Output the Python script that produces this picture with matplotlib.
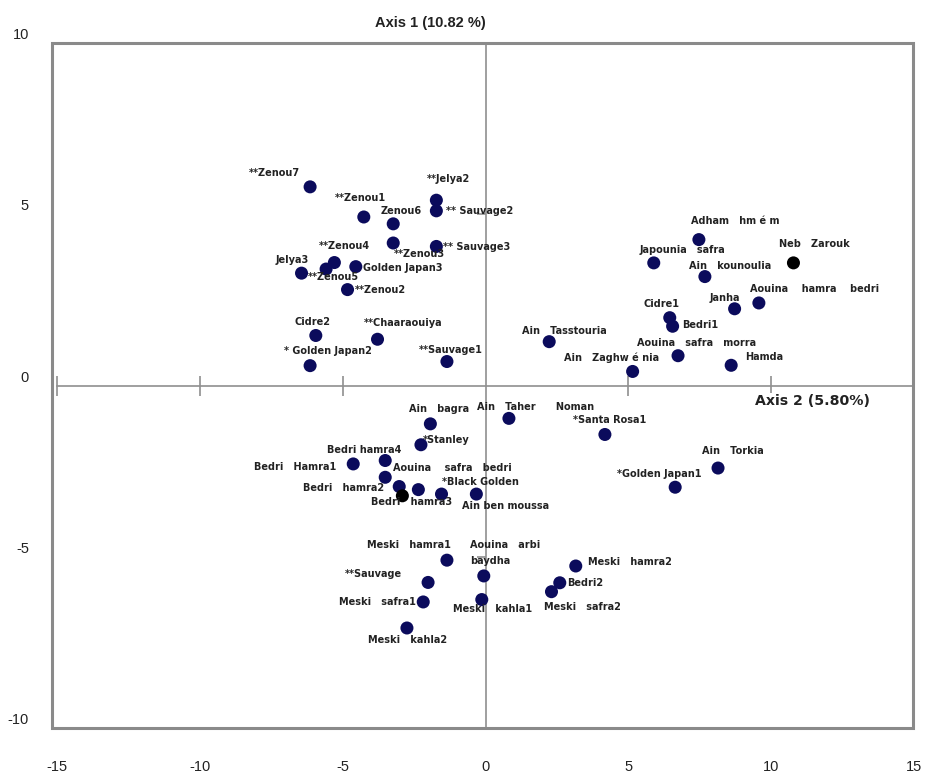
import matplotlib
matplotlib.use("Agg")
import matplotlib.pyplot as plt
from matplotlib import transforms
from matplotlib.patches import Rectangle

# ---------------- data ----------------
names = [
    "**Zenou7", "**Zenou1", "Zenou6", "**Jelya2", "** Sauvage2", "**Zenou3",
    "** Sauvage3", "**Zenou4", "**Zenou5", "Jelya3", "Golden Japan3", "**Zenou2",
    "Cidre2", "**Chaaraouiya", "* Golden Japan2", "**Sauvage1",
    "Adham   hm é m", "Neb   Zarouk", "Japounia   safra", "Ain   kounoulia",
    "Aouina    hamra    bedri", "Janha", "Cidre1", "Bedri1", "Ain   Tasstouria",
    "Aouina   safra   morra", "Hamda", "Ain   Zaghw é nia",
    "Ain   bagra", "Ain   Taher      Noman", "*Stanley", "Bedri hamra4",
    "Bedri   Hamra1", "Aouina    safra   bedri", "Bedri   hamra2", "",
    "Bedri   hamra3", "*Black Golden", "Ain ben moussa",
    "*Santa Rosa1", "Ain   Torkia", "*Golden Japan1",
    "Meski   hamra1", "Aouina   arbi\nbaydha", "**Sauvage", "Meski   safra1",
    "Meski   kahla1", "Meski   kahla2", "Meski   hamra2", "Bedri2", "Meski   safra2",
]
axis2 = [
    -6.14, -4.26, -3.23, -1.72, -1.72, -3.23,
    -1.72, -5.29, -5.58, -6.44, -4.54, -4.83,
    -5.94, -3.78, -6.14, -1.35,
    7.47, 10.78, 5.89, 7.68,
    9.57, 8.72, 6.45, 6.55, 2.23,
    6.74, 8.60, 5.15,
    -1.93, 0.82, -2.26, -3.51,
    -4.63, -3.51, -3.02, -2.91,
    -2.35, -1.54, -0.32,
    4.18, 8.14, 6.64,
    -1.35, -0.06, -2.01, -2.18,
    -0.13, -2.75, 3.16, 2.60, 2.31,
]
axis1 = [
    5.80, 4.92, 4.72, 5.41, 5.10, 4.16,
    4.06, 3.59, 3.40, 3.28, 3.47, 2.80,
    1.46, 1.35, 0.58, 0.70,
    4.26, 3.58, 3.58, 3.18,
    2.41, 2.24, 1.98, 1.73, 1.28,
    0.87, 0.59, 0.41,
    -1.12, -0.96, -1.73, -2.19,
    -2.29, -2.68, -2.95, -3.22,
    -3.04, -3.17, -3.17,
    -1.43, -2.41, -2.97,
    -5.10, -5.56, -5.75, -6.32,
    -6.25, -7.08, -5.27, -5.76, -6.02,
]
black_points = ["Neb   Zarouk", ""]

x_ticks = [-15, -10, -5, 0, 5, 10, 15]
y_ticks = [-10, -5, 0, 5, 10]
title_axis1 = "Axis 1 (10.82 %)"
title_axis2 = "Axis 2 (5.80%)"

# label placement (pixel offsets: dx right, dy down, alignment)
label_pos = [
    (-36, -14, "center"), (-3, -19, "center"), (8, -13, "center"), (12, -21, "center"),
    (10, 0, "left"), (26, 11, "center"), (7, 1, "left"), (10, -17, "center"),
    (7, 8, "center"), (-9, -13, "center"), (7, 1, "left"), (7, 0, "left"),
    (-3, -13, "center"), (26, -16, "center"), (18, -15, "center"), (4, -12, "center"),
    (36, -19, "center"), (21, -19, "center"), (29, -13, "center"), (25, -11, "center"),
    (56, -14, "center"), (-10, -11, "center"), (-8, -14, "center"), (10, -1, "left"),
    (15, -11, "center"), (19, -13, "center"), (14, -8, "left"), (-21, -14, "center"),
    (9, -15, "center"), (27, -11, "center"), (2, -5, "left"), (-21, -11, "center"),
    (-17, 3, "right"), (67, -9, "center"), (-15, 1, "right"), (0, 0, "center"),
    (-7, 12, "center"), (39, -12, "center"), (29, 12, "center"),
    (5, -14, "center"), (15, -17, "center"), (-16, -13, "center"),
    (-38, -15, "center"), (-14, -23, "left"), (-26, -8, "right"), (-7, 0, "right"),
    (11, 9, "center"), (1, 12, "center"), (12, -4, "left"), (7, 0, "left"), (31, 15, "center"),
]

# ---------------- figure ----------------
W, H = 926, 773
fig = plt.figure(figsize=(W / 100, H / 100), dpi=100)
fig.patch.set_facecolor("white")

left, right = 57 / W, 914 / W
top, bottom = 1 - 43 / H, 1 - 728 / H
ax = fig.add_axes([left, bottom, right - left, top - bottom])
ax.set_xlim(-15, 15)
ax.set_ylim(-10, 10)
ax.set_facecolor("none")

axis_col = "#8f8f8f"
for s in ["top", "right"]:
    ax.spines[s].set_visible(False)
ax.spines["bottom"].set_position(("data", 0))
ax.spines["left"].set_position(("data", 0))
for s in ["bottom", "left"]:
    ax.spines[s].set_color(axis_col)
    ax.spines[s].set_linewidth(1.2)
ax.set_xticks([t for t in x_ticks if t != 0])
ax.set_yticks([t for t in y_ticks if t != 0])
ax.tick_params(axis="x", direction="inout", length=14, width=1.2, color=axis_col,
               labelbottom=False)
ax.tick_params(axis="y", direction="out", length=6.5, width=1.2, color=axis_col,
               labelleft=False)

# outer frame
fig.patches.append(Rectangle((52 / W, 1 - 728 / H), (913 - 52) / W, (728 - 43) / H,
                             transform=fig.transFigure, fill=False,
                             edgecolor="#8a8a8a", linewidth=2.2, zorder=0))

# points
navy = "#0b0b5c"
colors = ["black" if n in black_points else navy for n in names]
ax.scatter(axis2, axis1, s=88, c=colors, zorder=3, linewidths=0)

# labels
for n, xv, yv, (dx, dy, ha) in zip(names, axis2, axis1, label_pos):
    if not n:
        continue
    ax.annotate(n, (xv, yv), xytext=(dx, -dy), textcoords="offset pixels",
                ha=ha, va="center", fontsize=7, fontweight="bold",
                color="#222222", linespacing=1.75, zorder=4,
                family="DejaVu Sans")

# tick labels placed at frame edges
tick_font = dict(fontsize=10.5, color="#222222", family="Liberation Sans")
ytrans = transforms.offset_copy(
    transforms.blended_transform_factory(fig.transFigure, ax.transData),
    fig=fig, x=0, y=8, units="dots")
for v in y_ticks:
    ax.text(29 / W, v, str(v), transform=ytrans, ha="right", va="center",
            clip_on=False, **tick_font)
xtrans = transforms.blended_transform_factory(ax.transData, fig.transFigure)
for v in x_ticks:
    ax.text(v, 1 - 767 / H, str(v), transform=xtrans, ha="center", va="center",
            clip_on=False, **tick_font)

# axis titles
fig.text(430 / W, 1 - 23 / H, title_axis1, ha="center", va="center",
         fontsize=10.5, fontweight="bold", color="#222222", family="Liberation Sans")
fig.text(755 / W, 1 - 401 / H, title_axis2, ha="left", va="center",
         fontsize=10.2, fontweight="bold", color="#222222", family="DejaVu Sans",
         bbox=dict(facecolor="white", edgecolor="none", pad=0.5), zorder=5)

fig.savefig("out.png", dpi=100, facecolor="white")
